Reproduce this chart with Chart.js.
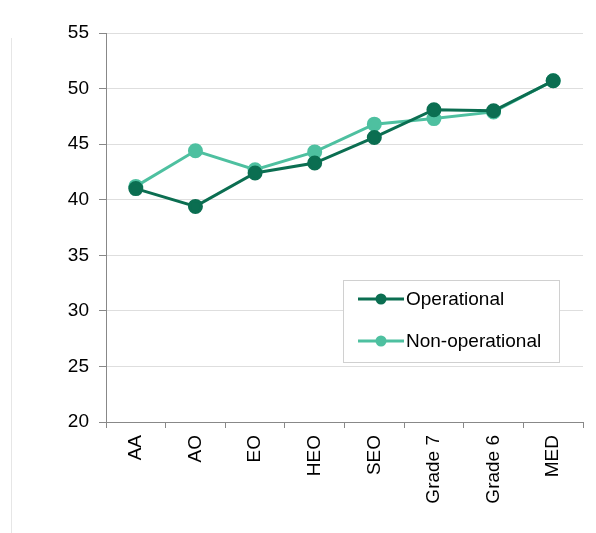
<!DOCTYPE html>
<html>
<head>
<meta charset="utf-8">
<script src="https://cdn.jsdelivr.net/npm/chart.js@4"></script>
<style>
  html, body { margin: 0; padding: 0; background: #fff; }
  #wrap { position: relative; width: 596px; height: 533px; }
  #edge { position: absolute; left: 11px; top: 38px; bottom: 0; border-left: 1px solid #e6e6e6; }
</style>
</head>
<body>
<div id="wrap">
  <div id="edge"></div>
  <canvas id="grafica" width="596" height="533"></canvas>
</div>
<script>
// categorías y valores
const grados = ['AA', 'AO', 'EO', 'HEO', 'SEO', 'Grade 7', 'Grade 6', 'MED'];
const operacional = [41.0, 39.4, 42.4, 43.3, 45.6, 48.1, 48.0, 50.7];
const noOperacional = [41.2, 44.4, 42.7, 44.3, 46.8, 47.3, 47.9, 50.7];
const ticksY = [20, 25, 30, 35, 40, 45, 50, 55];

const oscuro = '#0b6e51';
const claro = '#4ec0a0';
const fuente = '"Liberation Sans", Arial, sans-serif';

// leyenda dibujada dentro del área del gráfico
const leyenda = {
    id: 'leyenda',
    afterDraw(chart) {
        const c = chart.ctx;
        const x = 343, y = 280, w = 216, h = 82;
        c.save();
        c.fillStyle = '#fff';
        c.fillRect(x, y, w, h);
        c.strokeStyle = '#d0d0d0';
        c.lineWidth = 1;
        c.strokeRect(x + 0.5, y + 0.5, w, h);
        chart.data.datasets.forEach((ds, i) => {
            const ly = y + 19 + i * 42;
            c.strokeStyle = ds.borderColor;
            c.lineWidth = 3;
            c.beginPath();
            c.moveTo(x + 15, ly);
            c.lineTo(x + 61, ly);
            c.stroke();
            c.fillStyle = ds.borderColor;
            c.beginPath();
            c.arc(x + 38, ly, 5.5, 0, Math.PI * 2);
            c.fill();
            c.fillStyle = '#000';
            c.font = '19px ' + fuente;
            c.textBaseline = 'middle';
            c.fillText(ds.label, x + 63, ly + 1);
        });
        c.restore();
    }
};

const ctx = document.getElementById('grafica').getContext('2d');
new Chart(ctx, {
    type: 'line',
    data: {
        labels: grados,
        datasets: [{
            label: 'Operational',
            data: operacional,
            borderColor: oscuro,
            backgroundColor: oscuro,
            borderWidth: 3,
            pointRadius: 6,
            pointHoverRadius: 6,
            tension: 0
        }, {
            label: 'Non-operational',
            data: noOperacional,
            borderColor: claro,
            backgroundColor: claro,
            borderWidth: 3,
            pointRadius: 6,
            pointHoverRadius: 6,
            tension: 0
        }]
    },
    options: {
        responsive: false,
        animation: false,
        layout: { padding: { left: 0, right: 13, top: 33, bottom: 0 } },
        plugins: { legend: { display: false }, tooltip: { enabled: false } },
        scales: {
            x: {
                offset: true,
                afterFit: s => { s.height = 111; },
                grid: { offset: true, drawOnChartArea: false, drawTicks: true, tickLength: 6, color: '#888' },
                border: { color: '#888', width: 1 },
                ticks: { color: '#000', font: { family: fuente, size: 19 }, minRotation: 90, maxRotation: 90, padding: 7, autoSkip: false }
            },
            y: {
                min: 20,
                max: 55,
                afterFit: s => { s.width = 106; },
                afterBuildTicks: s => { s.ticks = ticksY.map(v => ({ value: v })); },
                grid: { color: '#dedede', tickColor: '#888', tickLength: 7 },
                border: { color: '#888', width: 1 },
                ticks: { color: '#000', font: { family: fuente, size: 19 }, padding: 10 }
            }
        }
    },
    plugins: [leyenda]
});
</script>
</body>
</html>
